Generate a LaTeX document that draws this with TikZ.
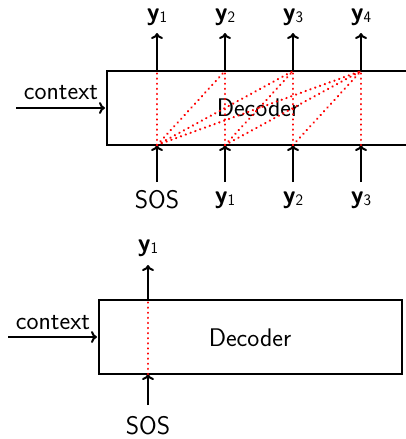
\documentclass[tikz,border=0pt]{standalone}
\usepackage{fontspec}
\usetikzlibrary{arrows.meta}
\newcommand{\yv}[1]{{\bfseries y}\raisebox{-0.25ex}{\fontsize{16}{16}\selectfont #1}}
\begin{document}
\begin{tikzpicture}[x=1pt,y=-1pt,
  lab/.style={font=\fontsize{25.5}{29}\selectfont\sffamily, inner sep=0pt},
  boxline/.style={draw, line width=2pt},
  arr/.style={line width=2pt, -{To[length=6pt,width=12pt,line width=2pt]}},
  att/.style={draw=red, line width=2.4pt, line cap=round, dash pattern=on 0.1pt off 5pt}]
\useasboundingbox (0,0) rectangle (406,439);
% ---------- top diagram ----------
\draw[boxline] (412,71) -- (107,71) -- (107,145) -- (412,145);
\node[lab] (dec1) at (258,108) {Decoder};
\node[lab] (ctx1) at (61,93) {context};
\coordinate (cs1) at (16,108);
\coordinate (ce1) at (105,108);
\draw[arr] (cs1) -- (ce1);
\foreach \i/\x/\lin/\lout in {1/157/SOS/\yv{1},2/225/\yv{1}/\yv{2},3/293/\yv{2}/\yv{3},4/361/\yv{3}/\yv{4}}{
  \coordinate (t\i) at (\x,71);
  \coordinate (b\i) at (\x,145);
  \coordinate (ot\i) at (\x,33);
  \coordinate (ib\i) at (\x,182);
  \node[lab] (out\i) at (\x,17) {\lout};
  \node[lab] (in\i) at (\x,200) {\lin};
  \draw[arr] (t\i) -- (ot\i);
  \draw[arr] (ib\i) -- (b\i);
  \draw[att] (b\i) -- (t\i);
}
\foreach \i/\j in {1/2,1/3,1/4,2/3,2/4,3/4}{
  \draw[att] (b\i) -- (t\j);
}
% ---------- bottom diagram ----------
\draw[boxline] (99,300) rectangle (402,374);
\node[lab] (dec2) at (250,338) {Decoder};
\node[lab] (ctx2) at (53,323) {context};
\coordinate (cs2) at (8,337);
\coordinate (ce2) at (97,337);
\draw[arr] (cs2) -- (ce2);
\coordinate (t5) at (148,300);
\coordinate (b5) at (148,374);
\coordinate (ot5) at (148,265);
\coordinate (ib5) at (148,405);
\node[lab] (out5) at (148,248) {\yv{1}};
\node[lab] (in5) at (148,426) {SOS};
\draw[arr] (t5) -- (ot5);
\draw[arr] (ib5) -- (b5);
\draw[att] (b5) -- (t5);
\end{tikzpicture}
\end{document}
